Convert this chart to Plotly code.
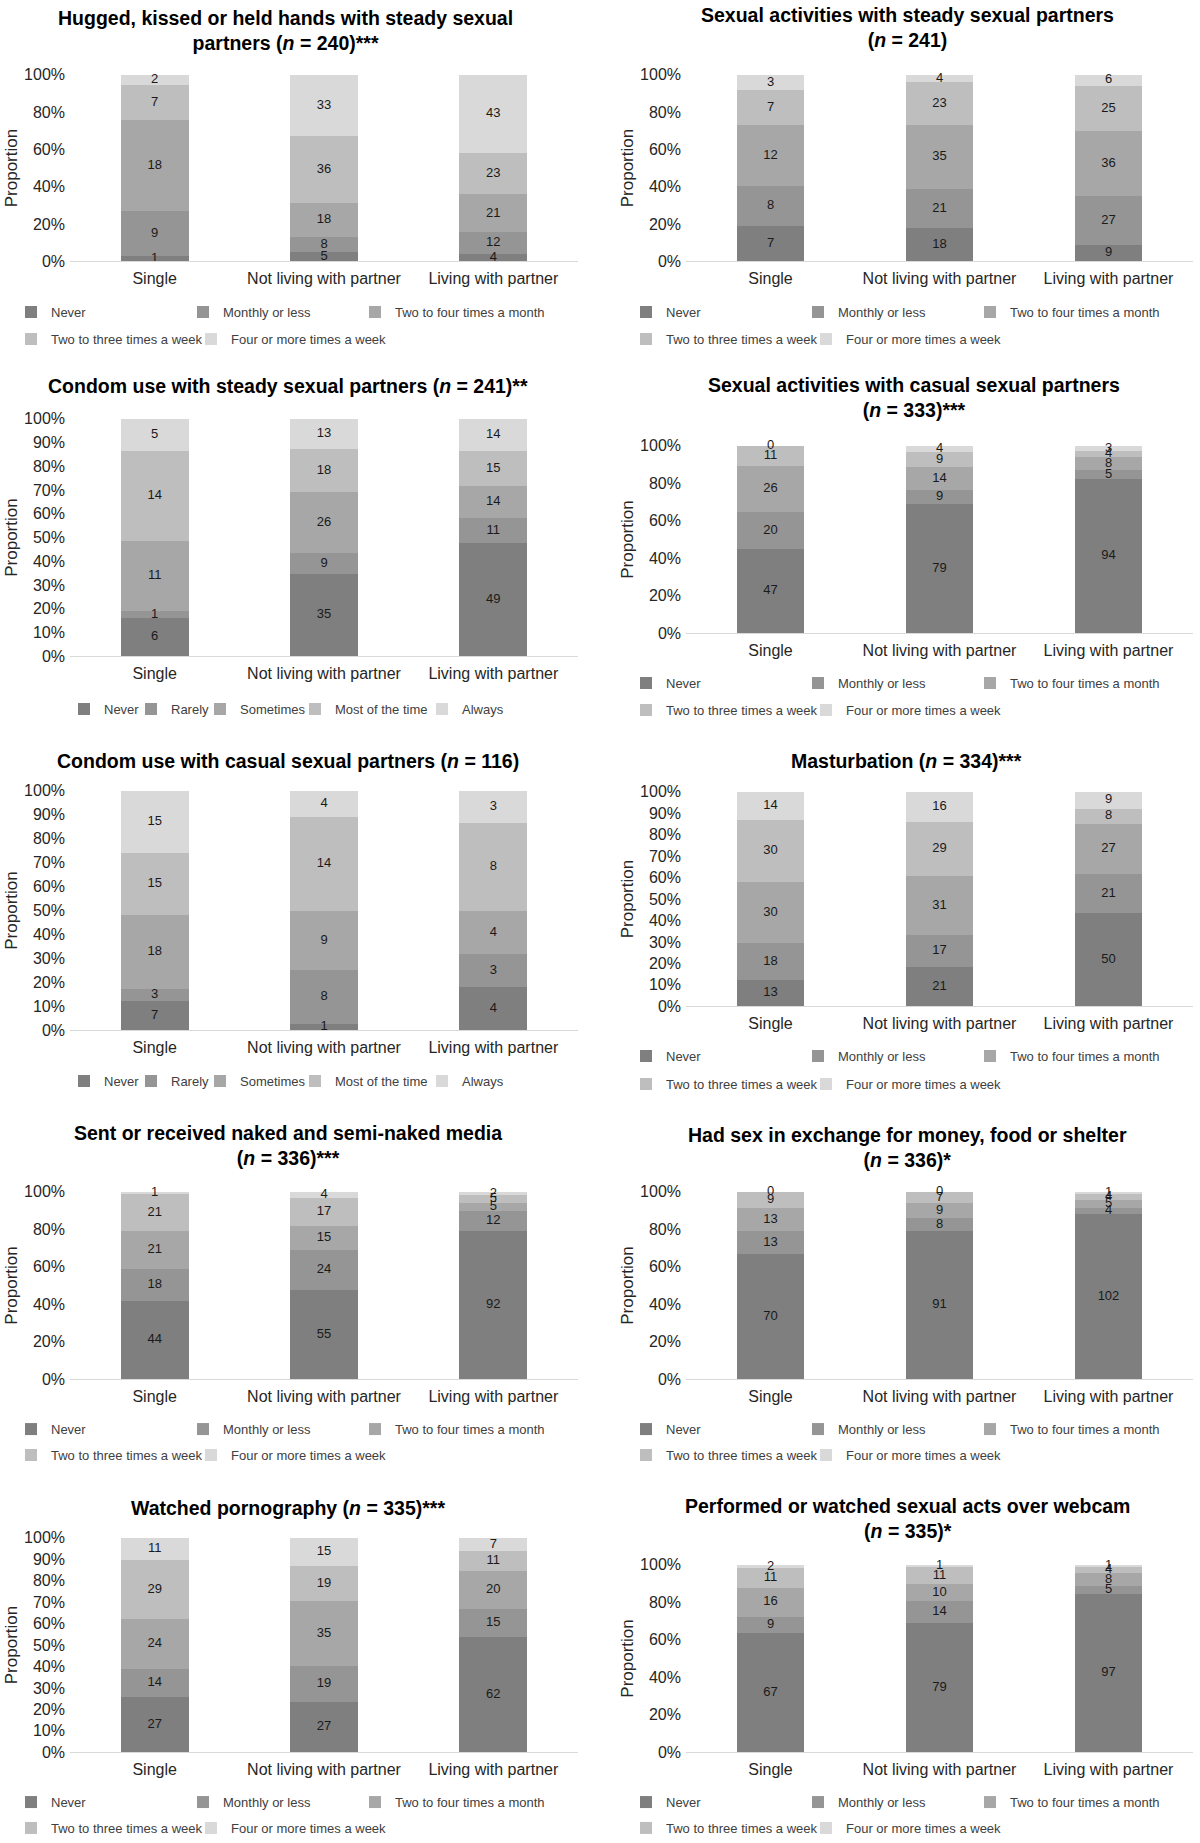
import plotly.graph_objects as go

# ---------------- data ----------------
categories = ["Single", "Not living with partner", "Living with partner"]
frequency_levels = ["Never", "Monthly or less", "Two to four times a month",
                    "Two to three times a week", "Four or more times a week"]
condom_levels = ["Never", "Rarely", "Sometimes", "Most of the time", "Always"]

# rows = response level (bottom to top), columns = Single, Not living, Living
hugged_counts = [[1, 5, 4], [9, 8, 12], [18, 18, 21], [7, 36, 23], [2, 33, 43]]
steady_sex_counts = [[7, 18, 9], [8, 21, 27], [12, 35, 36], [7, 23, 25], [3, 4, 6]]
condom_steady_counts = [[6, 35, 49], [1, 9, 11], [11, 26, 14], [14, 18, 15], [5, 13, 14]]
casual_sex_counts = [[47, 79, 94], [20, 9, 5], [26, 14, 8], [11, 9, 4], [0, 4, 3]]
condom_casual_counts = [[7, 1, 4], [3, 8, 3], [18, 9, 4], [15, 14, 8], [15, 4, 3]]
masturbation_counts = [[13, 21, 50], [18, 17, 21], [30, 31, 27], [30, 29, 8], [14, 16, 9]]
media_counts = [[44, 55, 92], [18, 24, 12], [21, 15, 5], [21, 17, 5], [1, 4, 2]]
exchange_counts = [[70, 91, 102], [13, 8, 4], [13, 9, 5], [9, 7, 4], [0, 0, 1]]
porn_counts = [[27, 27, 62], [14, 19, 15], [24, 35, 20], [29, 19, 11], [11, 15, 7]]
webcam_counts = [[67, 79, 97], [9, 14, 5], [16, 10, 8], [11, 11, 4], [2, 1, 1]]

titles = [
    "Hugged, kissed or held hands with steady sexual<br>partners (<i>n</i> = 240)***",
    "Sexual activities with steady sexual partners<br>(<i>n</i> = 241)",
    "Condom use with steady sexual partners (<i>n</i> = 241)**",
    "Sexual activities with casual sexual partners<br>(<i>n</i> = 333)***",
    "Condom use with casual sexual partners (<i>n</i> = 116)",
    "Masturbation (<i>n</i> = 334)***",
    "Sent or received naked and semi-naked media<br>(<i>n</i> = 336)***",
    "Had sex in exchange for money, food or shelter<br>(<i>n</i> = 336)*",
    "Watched pornography (<i>n</i> = 335)***",
    "Performed or watched sexual acts over webcam<br>(<i>n</i> = 335)*",
]
panel_counts = [hugged_counts, steady_sex_counts, condom_steady_counts, casual_sex_counts,
                condom_casual_counts, masturbation_counts, media_counts, exchange_counts,
                porn_counts, webcam_counts]
panel_levels = [frequency_levels, frequency_levels, condom_levels, frequency_levels,
                condom_levels, frequency_levels, frequency_levels, frequency_levels,
                frequency_levels, frequency_levels]
tick_steps = [20, 20, 10, 20, 10, 10, 20, 20, 10, 20]

# ---------------- styling / layout ----------------
W, H = 1200, 1843
FONT = "Liberation Sans, Arial, sans-serif"
colors = ["#7f7f7f", "#959595", "#a7a7a7", "#bebebe", "#d9d9d9"]

LX0, LX1 = 70, 578      # left column plot area (px)
RX0, RX1 = 686, 1193    # right column plot area (px)
# plot area (px): x0, x1, ytop, ybottom
geom = [
    (LX0, LX1, 75, 262), (RX0, RX1, 75, 262),
    (LX0, LX1, 420, 658), (RX0, RX1, 447, 635),
    (LX0, LX1, 793, 1033), (RX0, RX1, 794, 1009),
    (LX0, LX1, 1195, 1383), (RX0, RX1, 1195, 1383),
    (LX0, LX1, 1542, 1757), (RX0, RX1, 1569, 1757),
]
title_pos = [(285, 31), (907, 28), (288, 387), (914, 399), (288, 763),
             (906, 763), (288, 1149), (907, 1151), (288, 1512), (907, 1523)]
legend_rows = [(313, 340), (313, 340), (711,), (685, 712), (1084,),
               (1059, 1087), (1433, 1459), (1433, 1459), (1807, 1833), (1807, 1833)]
freq_entry_widths = [127, 127, 170, 135, 170]
condom_entry_widths = [22, 24, 50, 82, 60]


def px_x(v):
    return v / W


def px_y(v):
    return 1 - v / H


fig = go.Figure()
layout = dict(
    width=W, height=H, margin=dict(l=0, r=0, t=0, b=0),
    paper_bgcolor="white", plot_bgcolor="white",
    barmode="stack", barnorm="percent", bargap=0.6,
    font=dict(family=FONT, size=16, color="#262626"),
    annotations=[], showlegend=True,
)

legend_counter = 0
for p in range(10):
    x0, x1, yt, yb = geom[p]
    sfx = "" if p == 0 else str(p + 1)
    xa, ya = "x" + sfx, "y" + sfx
    left = (p % 2 == 0)
    counts = panel_counts[p]
    levels = panel_levels[p]

    layout["xaxis" + sfx] = dict(
        domain=[px_x(x0), px_x(x1)], anchor=ya, type="category",
        showline=True, linecolor="#d9d9d9", linewidth=1, ticks="",
        showgrid=False, zeroline=False, fixedrange=True, ticklabelstandoff=3,
        tickfont=dict(size=16, color="#262626"),
    )
    step = tick_steps[p]
    tv = list(range(0, 101, step))
    layout["yaxis" + sfx] = dict(
        domain=[px_y(yb), px_y(yt)], anchor=xa, range=[0, 100],
        tickmode="array", tickvals=tv, ticktext=[f"{v}%" for v in tv],
        showline=False, ticks="", showgrid=False, zeroline=False, ticklabelstandoff=4,
        tickfont=dict(size=16, color="#262626"),
        title=dict(text="Proportion", font=dict(size=17, color="#262626"), standoff=2),
        automargin=False, fixedrange=True,
    )

    # legends
    rows = legend_rows[p]
    if len(rows) == 2:
        ids = []
        for r, yc in enumerate(rows):
            legend_counter += 1
            lid = "legend" if legend_counter == 1 else f"legend{legend_counter}"
            ids.append(lid)
            layout[lid] = dict(
                orientation="h", x=px_x(11 if left else 626), xanchor="left",
                y=px_y(yc), yanchor="middle",
                font=dict(size=13, color="#404040"), bgcolor="rgba(0,0,0,0)",
                traceorder="normal",
            )
        trace_legend = [ids[0], ids[0], ids[0], ids[1], ids[1]]
        entry_w = freq_entry_widths
    else:
        legend_counter += 1
        lid = "legend" if legend_counter == 1 else f"legend{legend_counter}"
        layout[lid] = dict(
            orientation="h", x=px_x(64), xanchor="left",
            y=px_y(rows[0]), yanchor="middle",
            font=dict(size=13, color="#404040"), bgcolor="rgba(0,0,0,0)",
            traceorder="normal",
        )
        trace_legend = [lid] * 5
        entry_w = condom_entry_widths

    for j, lvl in enumerate(levels):
        fig.add_trace(go.Bar(
            x=categories, y=counts[j], name=lvl,
            marker=dict(color=colors[j], line=dict(width=0)),
            xaxis=xa, yaxis=ya, legend=trace_legend[j], legendwidth=entry_w[j],
            hoverinfo="name+y",
        ))

    # data labels at segment mid-points (from the counts)
    lx, ly, lt = [], [], []
    for c in range(3):
        total = sum(counts[j][c] for j in range(5))
        cum = 0
        for j in range(5):
            v = counts[j][c]
            lx.append(categories[c])
            ly.append((cum + v / 2) / total * 100)
            lt.append(str(v))
            cum += v
    fig.add_trace(go.Scatter(
        x=lx, y=ly, text=lt, mode="text", textposition="middle center",
        textfont=dict(size=13, color="#1a1a1a", family=FONT),
        xaxis=xa, yaxis=ya, showlegend=False, hoverinfo="skip", cliponaxis=False,
    ))

    tx, ty = title_pos[p]
    layout["annotations"].append(dict(
        text=titles[p], x=px_x(tx), y=px_y(ty), xref="paper", yref="paper",
        xanchor="center", yanchor="middle", showarrow=False,
        font=dict(size=19.5, color="#000000", family=FONT, weight="bold"),
    ))

fig.update_layout(**layout)
fig.write_html("out.html", config={"displayModeBar": False},
               post_script="document.body.style.margin='0';")
